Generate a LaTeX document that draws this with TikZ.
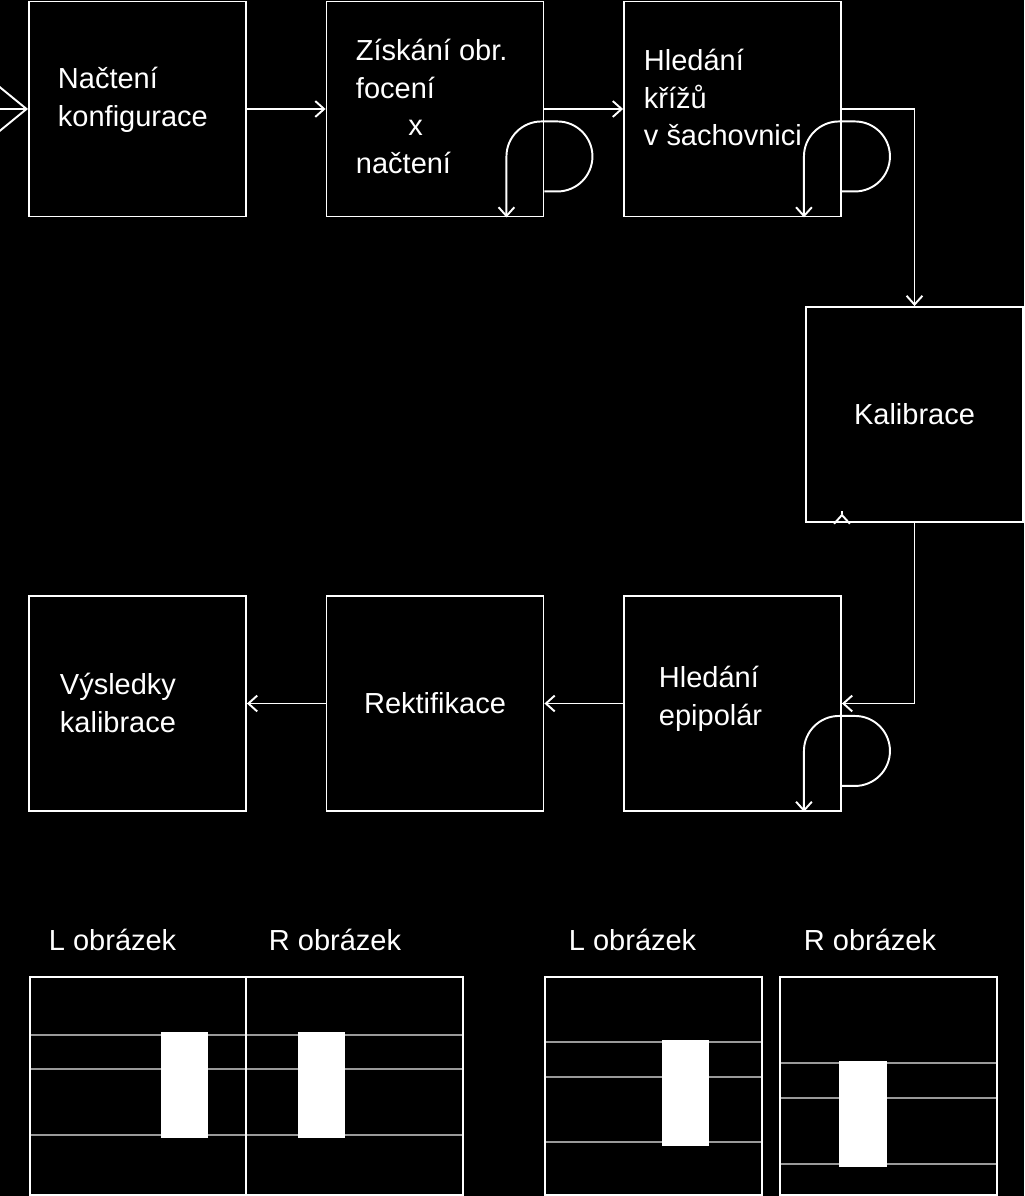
\documentclass[tikz,border=0pt]{standalone}
\usepackage{fontspec}
\setmainfont{Liberation Sans}
\usetikzlibrary{arrows.meta}

\begin{document}
\begin{tikzpicture}[
		x=0.02cm, y=-0.02cm,
		line width=1.1pt, white,
		BoxCfg/.style={draw, minimum width=4.34cm, minimum height=4.3cm},
		TxtCfg/.style={align=left, anchor=north west, font=\fontsize{16.5}{21.5}\selectfont, inner sep=0pt},
		Flow/.style={-{Straight Barb[length=5pt,width=9pt]}},
		Grid/.style={gray!80, line width=0.8pt}
		]
		\fill[black] (0,0) rectangle (1024,1196);
		\useasboundingbox (0,0) rectangle (1024,1196);
		
		\path
		(137.5,109) node [BoxCfg] (CONF) {}
		(435,109) node [BoxCfg] (IMG) {}
		(732.5,109) node [BoxCfg] (CROSS) {}
		(914.5,414.5) node [BoxCfg] (CALIB) {}
		(732.5,703.5) node [BoxCfg] (EPI) {}
		(435,703.5) node [BoxCfg] (RECT) {}
		(137.5,703.5) node [BoxCfg] (RES) {};
		
		\node [TxtCfg] (tCONF) at (57,66) {Načtení\\konfigurace};
		\node [TxtCfg] (tIMG) at (355,38) {Získání obr.\\focení\\\hspace{1.05cm}x\\načtení};
		\node [TxtCfg] (tCROSS) at (643,48) {Hledání\\křížů\\v šachovnici};
		\node [TxtCfg, anchor=center] (tCALIB) at (CALIB) {Kalibrace};
		\node [TxtCfg] (tEPI) at (658,665) {Hledání\\epipolár};
		\node [TxtCfg, anchor=center] (tRECT) at (RECT) {Rektifikace};
		\node [TxtCfg] (tRES) at (59,672) {Výsledky\\kalibrace};
		
		\coordinate (IN) at (-10,109);
		\draw [-{Straight Barb[length=0.55cm,width=0.9cm]}] (IN) -- (CONF.west);
		\draw [Flow] (CONF) -- (IMG);
		\draw [Flow] (IMG) -- (CROSS);
		\draw [Flow] (CROSS.east) -| (CALIB.north);
		\draw [Flow] (CALIB.south) |- (EPI.east);
		\draw [Flow] (EPI) -- (RECT);
		\draw [Flow] (RECT) -- (RES);
		
		% self loops
		\foreach \b in {IMG, CROSS, EPI}
		\draw [Flow] ([yshift=-0.52cm]\b.north east) ++(0,-107.5) ++(0,0) -- ++(0,0);
		\foreach \b in {IMG, CROSS, EPI}
		\draw [Flow] ([yshift=0.52cm]\b.south east) -- ++(13,0)
		arc [start angle=90, end angle=-90, radius=35] -- ++(-16,0)
		arc [start angle=270, end angle=180, radius=35] -- ([xshift=-0.76cm]\b.south east);
		
		% image pairs
		\node [TxtCfg, anchor=west] (L1) at (48,940) {L obrázek};
		\node [TxtCfg, anchor=west] (R1) at (268,940) {R obrázek};
		\node [TxtCfg, anchor=west] (L2) at (568,940) {L obrázek};
		\node [TxtCfg, anchor=west] (R2) at (803,940) {R obrázek};
		
		\foreach \yy in {1035,1069,1135} \draw [Grid] (30,\yy) -- (463,\yy);
		\foreach \yy in {1042,1077,1142} \draw [Grid] (545,\yy) -- (762,\yy);
		\foreach \yy in {1063,1098,1164} \draw [Grid] (780,\yy) -- (997,\yy);
		\fill (161,1032) rectangle (208,1138);
		\fill (298,1032) rectangle (345,1138);
		\fill (662,1040) rectangle (709,1146);
		\fill (839,1061) rectangle (887,1167);
		\draw (30,977) rectangle (463,1195);
		\draw (246,977) -- (246,1195);
		\draw (545,977) rectangle (762,1195);
		\draw (780,977) rectangle (997,1195);
\end{tikzpicture}
\end{document}
